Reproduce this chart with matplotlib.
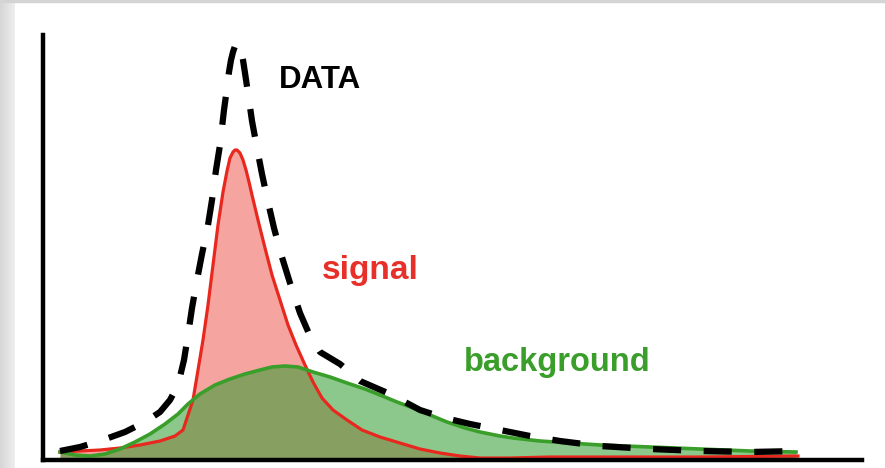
"""Signal + background vs data sketch"""

import numpy as np
import matplotlib.pyplot as plt
from matplotlib.patches import Rectangle

# values (x in plot units, y = height above baseline)
x_data = [17, 37, 57, 82, 102, 117, 127, 135, 141, 145, 149, 154, 159, 165, 169,
          173, 177, 181, 184, 186, 188, 190, 192, 194, 196, 198, 200, 202, 205,
          209, 214, 219, 225, 231, 238, 247, 257, 267, 277, 297, 317, 347, 377,
          402, 427, 457, 487, 517, 557, 607, 657, 707, 755]
y_data = [7, 11, 17, 26, 36, 46, 58, 73, 98, 123, 150, 178, 204, 233, 258,
          288, 313, 348, 370, 386, 398, 406, 412, 415, 414, 409, 398, 385, 365,
          337, 310, 284, 256, 230, 204, 175, 145, 122, 106, 94, 77, 64, 48,
          40, 34, 28, 22, 17, 12, 9, 7, 6, 7]

x_sig = [17, 37, 57, 77, 97, 117, 132, 140, 145, 150, 155, 160, 165, 170, 175,
         180, 184, 187, 190, 192, 194, 197, 200, 203, 206, 209, 215, 222, 229,
         237, 245, 253, 262, 270, 279, 290, 304, 319, 337, 357, 377, 397, 417,
         437, 467, 507, 577, 657, 755]
y_sig = [6, 7, 8, 10, 13, 17, 22, 28, 43, 58, 88, 118, 153, 193, 233,
         266, 287, 300, 306, 308, 308, 305, 298, 288, 276, 263, 238, 210, 183,
         158, 133, 113, 93, 76, 60, 48, 38, 28, 21, 15, 9, 5, 2, 0, 0, 1, 1,
         1, 2]

x_bkg = [17, 32, 47, 62, 77, 92, 107, 122, 135, 145, 157, 172, 187, 202, 217,
         229, 242, 255, 270, 287, 304, 322, 337, 354, 370, 387, 404, 422, 437,
         457, 470, 497, 527, 557, 607, 657, 707, 753]
y_bkg = [6, 3, 2, 4, 9, 16, 24, 34, 44, 54, 64, 73, 79, 84, 88,
         91, 92, 91, 86, 81, 75, 69, 63, 56, 50, 43, 36, 30, 26,
         22, 20, 17, 15, 13, 11, 9, 7, 6]

fig = plt.figure(figsize=(8.85, 4.68), dpi=100)

# grey frame bits of the screenshot
shade = fig.add_axes([0, 0, 15/885, 1], zorder=-1)
shade.imshow(np.linspace(0.84, 0.93, 20).reshape(1, -1), cmap='gray',
             vmin=0, vmax=1, aspect='auto', extent=(0, 1, 0, 1))
shade.axis('off')
fig.patches.append(Rectangle((0, 1 - 2/468), 1, 2/468, transform=fig.transFigure,
                             color='#d4d4d4', zorder=0))

ax = fig.add_axes([43/885, 8/468, 819/885, 425/468])
ax.set_xlim(0, 819)
ax.set_ylim(-2, 423)

red = '#e8281e'
green = '#2e9b2e'

ax.fill_between(x_sig, y_sig, 0, color=red, alpha=0.42, lw=0)
ax.plot(x_sig, y_sig, color=red, lw=2.3)
ax.fill_between(x_bkg, y_bkg, 0, color=green, alpha=0.55, lw=0)
ax.plot(x_bkg, y_bkg, color='#3a9e2a', lw=2.6)
ax.plot(x_data, y_data, color='black', lw=4.5, dashes=(4.5, 3.6),
        solid_capstyle='butt', dash_capstyle='butt')

ax.text(277, 378, 'DATA', fontsize=22.5, fontweight='bold', family='Liberation Sans',
        color='black', ha='center', va='center')
ax.text(327, 188, 'signal', fontsize=24, fontweight='bold', family='Liberation Sans',
        color='#e8302a', ha='center', va='center')
ax.text(514, 96, 'background', fontsize=23.5, fontweight='bold', family='Liberation Sans',
        color='#3a9e2a', ha='center', va='center')

for s in ['top', 'right']:
    ax.spines[s].set_visible(False)
for s in ['left', 'bottom']:
    ax.spines[s].set_linewidth(3.2)
ax.set_xticks([])
ax.set_yticks([])

fig.savefig('out.png', dpi=100)
